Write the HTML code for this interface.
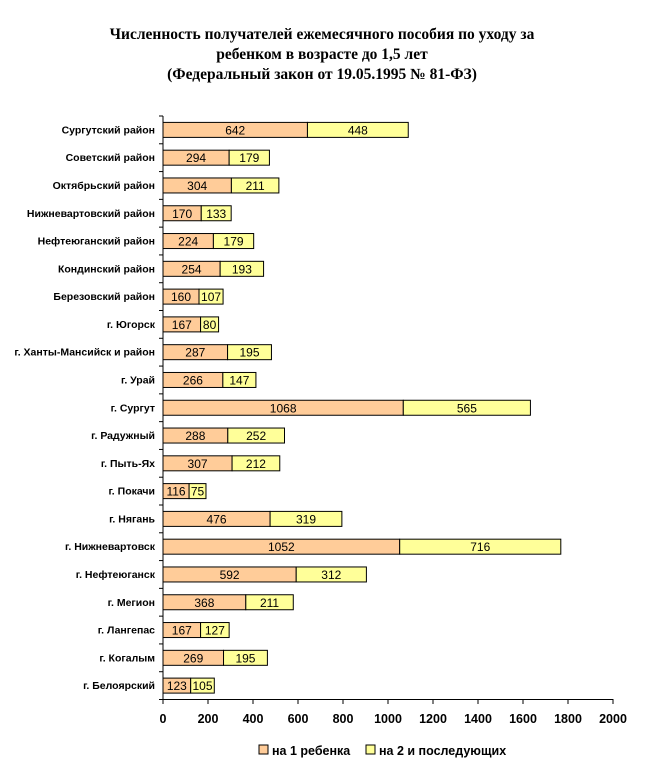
<!DOCTYPE html>
<html><head><meta charset="utf-8"><style>
body{margin:0;background:#fff;}
svg{display:block;font-family:"Liberation Sans",sans-serif;}
</style></head><body>
<svg width="645" height="772" xmlns="http://www.w3.org/2000/svg">
<g font-family="Liberation Serif,serif" font-weight="bold" font-size="15.5" text-anchor="middle">
<text x="322" y="39">Численность получателей ежемесячного пособия по уходу за</text>
<text x="322" y="59">ребенком в возрасте до 1,5 лет</text>
<text x="322" y="79">(Федеральный закон от 19.05.1995 № 81-ФЗ)</text>
</g>
<g id="bars"></g>
<line x1="163" y1="116" x2="163" y2="700" stroke="#000"/>
<line x1="163" y1="699.5" x2="613" y2="699.5" stroke="#000"/>
<g id="ticks"></g>
<rect x="259" y="745" width="9" height="9" fill="#FFCC99" stroke="#000"/>
<text x="272" y="755" font-size="12.5" font-weight="bold">на 1 ребенка</text>
<rect x="366" y="745" width="9" height="9" fill="#FFFF99" stroke="#000"/>
<text x="379" y="755" font-size="12.5" font-weight="bold">на 2 и последующих</text>
</svg>
<script>
(function(){
const d=[["Сургутский район",642,448],["Советский район",294,179],["Октябрьский район",304,211],["Нижневартовский район",170,133],["Нефтеюганский район",224,179],["Кондинский район",254,193],["Березовский район",160,107],["г. Югорск",167,80],["г. Ханты-Мансийск и район",287,195],["г. Урай",266,147],["г. Сургут",1068,565],["г. Радужный",288,252],["г. Пыть-Ях",307,212],["г. Покачи",116,75],["г. Нягань",476,319],["г. Нижневартовск",1052,716],["г. Нефтеюганск",592,312],["г. Мегион",368,211],["г. Лангепас",167,127],["г. Когалым",269,195],["г. Белоярский",123,105]];
const ns="http://www.w3.org/2000/svg";
const g=document.getElementById("bars"),t=document.getElementById("ticks");
function el(p,n,a,txt){const e=document.createElementNS(ns,n);for(const k in a)e.setAttribute(k,a[k]);if(txt!=null)e.textContent=txt;p.appendChild(e);return e;}
const s=0.225,x0=163,y0=116,band=(699.5-116)/21;
d.forEach((r,i)=>{
 const c=y0+band*(i+0.5),y=c-7.5;
 const w1=r[1]*s,w2=r[2]*s;
 el(g,"rect",{x:x0,y:y,width:w1,height:15,fill:"#FFCC99",stroke:"#000","stroke-width":1});
 el(g,"rect",{x:x0+w1,y:y,width:w2,height:15,fill:"#FFFF99",stroke:"#000","stroke-width":1});
 el(g,"text",{x:x0+w1/2,y:c+4.5,"font-size":12,"text-anchor":"middle"},r[1]);
 el(g,"text",{x:x0+w1+w2/2,y:c+4.5,"font-size":12,"text-anchor":"middle"},r[2]);
 el(g,"text",{x:155,y:c+3.5,"font-size":10.5,"font-weight":"bold","text-anchor":"end"},r[0]);
});
for(let i=0;i<=21;i++){const y=y0+band*i;el(t,"line",{x1:159,x2:163,y1:y,y2:y,stroke:"#000"});}
for(let v=0;v<=2000;v+=200){const x=x0+v*s;el(t,"line",{x1:x,x2:x,y1:699,y2:704,stroke:"#000"});
 el(t,"text",{x:x,y:723,"font-size":12.5,"font-weight":"bold","text-anchor":"middle"},v);}
})();
</script>
</body></html>
